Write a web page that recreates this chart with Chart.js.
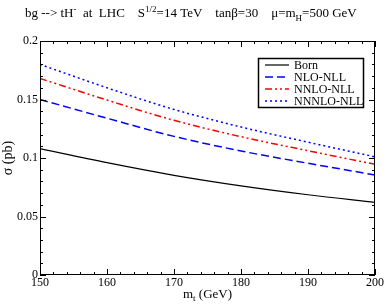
<!DOCTYPE html>
<html>
<head>
<meta charset="utf-8">
<script src="https://cdn.jsdelivr.net/npm/chart.js@4"></script>
<style>
  html, body { margin: 0; padding: 0; background: #fff; }
  #wrap { width: 391px; height: 307px; }
</style>
</head>
<body>
<div id="wrap"><canvas id="grafico"></canvas></div>
<script>
const massas = [150, 160, 170, 180, 190, 200];
const born = [0.108, 0.0960, 0.0852, 0.0762, 0.0686, 0.0621];
const nlo = [0.150, 0.134, 0.1185, 0.106, 0.0955, 0.0855];
const nnlo = [0.168, 0.1495, 0.1322, 0.1182, 0.1062, 0.0946];
const nnnlo = [0.180, 0.160, 0.1415, 0.1265, 0.1135, 0.101];
const nomes = ['Born', 'NLO-NLL', 'NNLO-NLL', 'NNNLO-NLL'];
const xTicks = [150, 160, 170, 180, 190, 200];
const yTicks = [0, 0.05, 0.1, 0.15, 0.2];

const serif = '"Liberation Serif", "Times New Roman", serif';

function serie(label, valores, cor, dash, largura) {
    return {
        label: label,
        data: massas.map((m, i) => ({ x: m, y: valores[i] })),
        borderColor: cor,
        borderDash: dash,
        borderWidth: largura,
        pointRadius: 0,
        fill: false,
        cubicInterpolationMode: 'monotone'
    };
}

// moldura, ticks internos, legenda e titulo
const extras = {
    id: 'extras',
    afterDraw(chart) {
        const c = chart.ctx;
        const a = chart.chartArea;
        const sx = chart.scales.x, sy = chart.scales.y;
        c.save();
        c.strokeStyle = '#000';
        c.lineWidth = 1;
        c.strokeRect(a.left + 0.5, a.top + 0.5, a.right - a.left - 1, a.bottom - a.top - 1);

        c.beginPath();
        for (let v = 150; v <= 200; v += 2) {
            const px = Math.round(sx.getPixelForValue(v)) + 0.5;
            const len = (v % 10 === 0) ? 6 : 3;
            c.moveTo(px, a.bottom); c.lineTo(px, a.bottom - len);
            c.moveTo(px, a.top); c.lineTo(px, a.top + len);
        }
        for (let k = 0; k <= 20; k++) {
            const py = Math.round(sy.getPixelForValue(k / 100)) + 0.5;
            const len = (k % 5 === 0) ? 6 : 3;
            c.moveTo(a.left, py); c.lineTo(a.left + len, py);
            c.moveTo(a.right, py); c.lineTo(a.right - len, py);
        }
        c.stroke();

        // legenda
        const lx = 258, ly = 58, lw = 105, lh = 49;
        c.fillStyle = '#fff';
        c.fillRect(lx, ly, lw, lh);
        c.lineWidth = 1.5;
        c.strokeRect(lx + 0.5, ly + 0.5, lw, lh);
        c.font = '12px ' + serif;
        c.textBaseline = 'middle';
        chart.data.datasets.forEach((ds, i) => {
            const y = ly + 7 + i * 12;
            c.beginPath();
            c.strokeStyle = ds.borderColor;
            c.lineWidth = ds.borderWidth;
            c.setLineDash(ds.borderDash || []);
            c.moveTo(lx + 7, y); c.lineTo(lx + 31, y);
            c.stroke();
            c.setLineDash([]);
            c.fillStyle = '#000';
            c.fillText(ds.label, lx + 36, y + 1);
        });

        // titulo
        const partes = [
            ['bg --> tH', 0, 13], ['-', -5, 9], ['  at  LHC    S', 0, 13], ['1/2', -5, 9],
            ['=14 TeV    tan\u03b2=30    \u03bc=m', 0, 13], ['H', 4, 9], ['=500 GeV', 0, 13]
        ];
        let x = 25;
        c.textBaseline = 'alphabetic';
        c.fillStyle = '#000';
        partes.forEach(p => {
            c.font = p[2] + 'px ' + serif;
            c.fillText(p[0], x, 17 + p[1]);
            x += c.measureText(p[0]).width;
        });

        // titulo do eixo x com subscrito
        const cx = (a.left + a.right) / 2;
        const tx = [['m', 0, 13], ['t', 3, 9], [' (GeV)', 0, 13]];
        let w = 0;
        tx.forEach(p => { c.font = p[2] + 'px ' + serif; w += c.measureText(p[0]).width; });
        let xx = cx - w / 2;
        tx.forEach(p => {
            c.font = p[2] + 'px ' + serif;
            c.fillText(p[0], xx, 298 + p[1]);
            xx += c.measureText(p[0]).width;
        });
        c.restore();
    }
};

new Chart(document.getElementById('grafico'), {
    type: 'line',
    data: {
        datasets: [
            serie(nomes[0], born, '#000000', [], 1.2),
            serie(nomes[1], nlo, '#0000ff', [8, 4], 1.5),
            serie(nomes[2], nnlo, '#ff0000', [7, 3, 2, 3, 2, 3], 1.5),
            serie(nomes[3], nnnlo, '#0000ff', [2, 3], 1.5)
        ]
    },
    options: {
        responsive: true,
        maintainAspectRatio: false,
        animation: false,
        layout: { padding: { top: 41, right: 16, left: 0, bottom: 0 } },
        plugins: { legend: { display: false }, tooltip: { enabled: false } },
        scales: {
            x: {
                type: 'linear',
                min: 150, max: 200,
                afterBuildTicks: s => { s.ticks = xTicks.map(v => ({ value: v })); },
                afterFit: s => { s.height = 32; },
                grid: { display: false, drawTicks: false },
                border: { display: false },
                ticks: { color: '#000', font: { family: serif, size: 12 }, padding: 1, maxRotation: 0 },
                title: { display: false }
            },
            y: {
                min: 0, max: 0.2,
                afterBuildTicks: s => { s.ticks = yTicks.map(v => ({ value: v })); },
                afterFit: s => { s.width = 40; },
                grid: { display: false, drawTicks: false },
                border: { display: false },
                ticks: { color: '#000', font: { family: serif, size: 12 }, padding: 2,
                    callback: v => String(Math.round(v * 100) / 100) },
                title: { display: true, text: '\u03c3 (pb)', color: '#000', font: { family: serif, size: 14 }, padding: 0 }
            }
        }
    },
    plugins: [extras]
});
</script>
</body>
</html>
